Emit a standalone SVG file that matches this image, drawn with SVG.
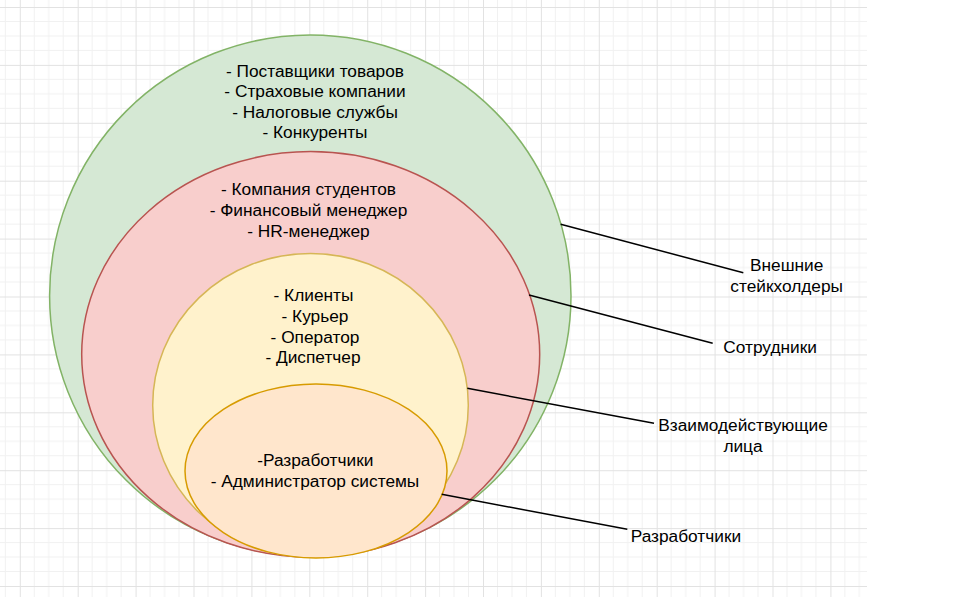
<svg xmlns="http://www.w3.org/2000/svg" width="960" height="597" viewBox="0 0 960 597">
<defs>
<pattern id="grid" patternUnits="userSpaceOnUse" x="19.8" y="7" width="57.9" height="57.9">
<path d="M14.475 0V57.9M28.95 0V57.9M43.425 0V57.9M0 14.475H57.9M0 28.95H57.9M0 43.425H57.9" stroke="#f1f1f1" stroke-width="1" fill="none"/>
<path d="M0.5 0V57.9M0 0.5H57.9" stroke="#e2e2e2" stroke-width="1" fill="none"/>
</pattern>
<style>
text{font-family:"Liberation Sans",Arial,sans-serif;font-size:17.3px;fill:#000}
.c{text-anchor:middle}
.con{stroke:#000;stroke-width:1.5;fill:none}
</style>
</defs>
<rect width="960" height="597" fill="#fff"/>
<rect width="867" height="597" fill="url(#grid)"/>
<g id="outer">
<ellipse cx="310.3" cy="295.7" rx="260.7" ry="260.7" fill="#d5e8d4" stroke="#82b366" stroke-width="1.5"/>
<text class="c" x="315" y="76.7">- Поставщики товаров</text>
<text class="c" x="315" y="97.3">- Страховые компании</text>
<text class="c" x="315" y="118.3">- Налоговые службы</text>
<text class="c" x="315" y="138.3">- Конкуренты</text>
</g>
<g id="employees">
<ellipse cx="310.7" cy="354.3" rx="229" ry="202.7" fill="#f8cecc" stroke="#b85450" stroke-width="1.5"/>
<text class="c" x="308.5" y="195">- Компания студентов</text>
<text class="c" x="308.5" y="215.7">- Финансовый менеджер</text>
<text class="c" x="308.5" y="236.7">- HR-менеджер</text>
</g>
<g id="interacting">
<ellipse cx="310.5" cy="405.2" rx="157.8" ry="151.8" fill="#fff2cc" stroke="#d6b656" stroke-width="1.5"/>
<text class="c" x="313.5" y="301">- Клиенты</text>
<text class="c" x="315" y="321.7">- Курьер</text>
<text class="c" x="315" y="342.7">- Оператор</text>
<text class="c" x="313" y="362.7">- Диспетчер</text>
</g>
<g id="developers">
<ellipse cx="316" cy="471" rx="131" ry="87" fill="#ffe6cc" stroke="#d79b00" stroke-width="1.5"/>
<text class="c" x="315.3" y="466">-Разработчики</text>
<text class="c" x="315" y="487.3">- Администратор системы</text>
</g>
<g id="connectors">
<path class="con" d="M560.7 224.3L743.3 272.7"/>
<path class="con" d="M529 295L712.7 343.3"/>
<path class="con" d="M467.3 388.3L654 423.3"/>
<path class="con" d="M441.7 494.3L627.3 529.3"/>
</g>
<g id="label-external">
<text class="c" x="786.7" y="270.7">Внешние</text>
<text class="c" x="786.7" y="291.7">стейкхолдеры</text>
</g>
<g id="label-employees">
<text x="723.3" y="353.3">Сотрудники</text>
</g>
<g id="label-interacting">
<text class="c" x="743" y="430.7">Взаимодействующие</text>
<text class="c" x="743" y="451.7">лица</text>
</g>
<g id="label-developers">
<text x="630.7" y="541.7">Разработчики</text>
</g>
</svg>
